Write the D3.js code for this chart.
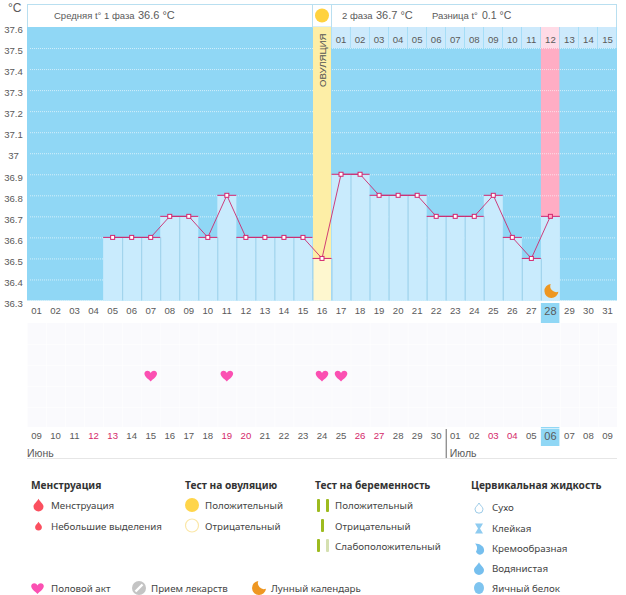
<!DOCTYPE html>
<html><head><meta charset="utf-8">
<script src="https://d3js.org/d3.v7.min.js"></script>
<style>
html,body{margin:0;padding:0;background:#fff;overflow:hidden}
text{font-family:"Liberation Sans",sans-serif;fill:#5a5a5a}
.lg text{font-family:"Noto Sans",sans-serif;fill:#444;font-size:9.75px}
.lg text.h{font-weight:700;font-size:10.2px;fill:#333}
</style></head><body>
<svg id="c" width="626" height="595"></svg>
<script>
const cycleDays = d3.range(1,32);
const dayLabels = cycleDays.map(d=>String(d).padStart(2,"0"));
const temps = [null,null,null,null,36.6,36.6,36.6,36.7,36.7,36.6,36.8,36.6,36.6,36.6,36.6,36.5,36.9,36.9,36.8,36.8,36.8,36.7,36.7,36.7,36.8,36.6,36.5,36.7];
const tempTicks = [37.6,37.5,37.4,37.3,37.2,37.1,37,36.9,36.8,36.7,36.6,36.5,36.4,36.3];
const phase2Labels = ["01","02","03","04","05","06","07","08","09","10","11","12","13","14","15"];
const calendarLabels = ["09","10","11","12","13","14","15","16","17","18","19","20","21","22","23","24","25","26","27","28","29","30","01","02","03","04","05","06","07","08","09"];
const weekendDays = [4,5,11,12,18,19,25,26];
const sexDays = [7,11,16,17];
const ovulationDay = 16, todayDay = 28, pinkDay = 28, julyStart = 23;

const svg = d3.select("#c");
const x = d3.scaleBand().domain(cycleDays).range([27,617]);
const y = d3.scaleLinear().domain([36.3,37.6]).range([300.5,27]);
const bw = x.bandwidth();
const BLUE="#90d7f5", BAR="#c9ebfd", RED="#d4246e", TXT="#5a5a5a";
const plotW = 590;

// header box
svg.append("rect").attr("x",27.5).attr("y",4.5).attr("width",plotW-1).attr("height",23).attr("fill","#fff").attr("stroke","#b9dff0");
// plot background
svg.append("rect").attr("x",x(1)).attr("y",y(37.6)).attr("width",plotW).attr("height",y(36.3)-y(37.6)).attr("fill",BLUE);
// phase-2 day strip
const stripH = y(37.5)-y(37.6);
svg.selectAll(".strip").data(phase2Labels).join("rect")
  .attr("x",(d,i)=>x(ovulationDay+1+i)).attr("y",y(37.6)).attr("width",bw-.6).attr("height",stripH)
  .attr("fill",(d,i)=>ovulationDay+1+i===pinkDay?"#ffdbe6":"#cdeafc");
// pink column
svg.append("rect").attr("x",x(pinkDay)).attr("y",y(37.5)).attr("width",bw-.5).attr("height",y(temps[pinkDay-1])-y(37.5)).attr("fill","#ffadc4");
// gridlines
svg.selectAll(".g").data(tempTicks.filter(t=>t<37.6)).join("line")
  .attr("x1",x(1)+3).attr("x2",616).attr("y1",d=>y(d)+.5).attr("y2",d=>y(d)+.5)
  .attr("stroke","#fff").attr("stroke-opacity",.6).attr("stroke-dasharray","1 1");
// ovulation column
svg.append("rect").attr("x",x(ovulationDay)).attr("y",4.5).attr("width",bw).attr("height",22.5).attr("fill","#fff").attr("stroke","#b9dff0");
svg.append("rect").attr("x",x(ovulationDay)+.5).attr("y",y(37.6)).attr("width",bw-1).attr("height",y(temps[ovulationDay-1])-y(37.6)).attr("fill","#fdeea6");
svg.append("rect").attr("x",x(ovulationDay)+.5).attr("y",y(temps[ovulationDay-1])).attr("width",bw-1).attr("height",y(36.3)-y(temps[ovulationDay-1])).attr("fill","#fef7cf");
svg.append("circle").attr("cx",x(ovulationDay)+bw/2).attr("cy",15.5).attr("r",7).attr("fill","#ffd23f");
svg.append("text").text("ОВУЛЯЦИЯ").attr("transform",`translate(${x(ovulationDay)+bw/2+3.5},87) rotate(-90)`).attr("font-size",9.6).style("fill","#555");

// bars
const data = temps.map((t,i)=>({day:i+1,t})).filter(d=>d.t!==null);
svg.selectAll(".bar").data(data.filter(d=>d.day!==ovulationDay)).join("rect")
  .attr("x",d=>x(d.day)).attr("y",d=>y(d.t)).attr("width",bw).attr("height",d=>y(36.3)-y(d.t)).attr("fill",BAR);
svg.selectAll(".sep").data(data.slice(1)).join("line")
  .attr("x1",d=>x(d.day)+.5).attr("x2",d=>x(d.day)+.5).attr("y1",d=>y(Math.min(d.t,temps[d.day-2])) ).attr("y2",y(36.3))
  .attr("stroke","#9dd0ea");
// value caps, line, markers
svg.selectAll(".cap").data(data).join("line")
  .attr("x1",d=>x(d.day)).attr("x2",d=>x(d.day)+bw).attr("y1",d=>y(d.t)).attr("y2",d=>y(d.t))
  .attr("stroke",RED).attr("stroke-width",1);
const line = d3.line().x(d=>x(d.day)+bw/2).y(d=>y(d.t));
svg.append("path").datum(data).attr("d",line).attr("fill","none").attr("stroke","#cc2a6e").attr("stroke-width",.9);
svg.selectAll(".pt").data(data).join("rect")
  .attr("x",d=>x(d.day)+bw/2-2).attr("y",d=>y(d.t)-2).attr("width",4).attr("height",4)
  .attr("fill",d=>d.day===pinkDay?"#ffadc4":"#fff").attr("stroke",RED).attr("stroke-width",1);

// today highlights
svg.append("rect").attr("x",x(todayDay)).attr("y",303).attr("width",bw-.5).attr("height",20).attr("fill",BLUE);
svg.append("rect").attr("x",x(todayDay)).attr("y",427).attr("width",bw-.5).attr("height",19).attr("fill",BLUE);

// lower panel
svg.append("rect").attr("x",x(1)).attr("y",323).attr("width",plotW).attr("height",104).attr("fill","#fafafd");
svg.selectAll(".lv").data(cycleDays).join("line").attr("x1",d=>x(d)+.5).attr("x2",d=>x(d)+.5).attr("y1",323).attr("y2",427).attr("stroke","#fff").attr("stroke-opacity",.6);
svg.selectAll(".lh").data(d3.range(5)).join("line").attr("x1",27).attr("x2",617).attr("y1",d=>344.5+d*21).attr("y2",d=>344.5+d*21).attr("stroke","#fff").attr("stroke-opacity",.6);
const heart = s=>`M0 ${s*.95}C${-s*.5} ${s*.5} ${-s} ${s*.15} ${-s} ${-s*.3}C${-s} ${-s*.8} ${-s*.25} ${-s*.95} 0 ${-s*.4}C${s*.25} ${-s*.95} ${s} ${-s*.8} ${s} ${-s*.3}C${s} ${s*.15} ${s*.5} ${s*.5} 0 ${s*.95}Z`;
svg.selectAll(".heart").data(sexDays).join("path").attr("d",heart(6.3)).attr("transform",d=>`translate(${x(d)+bw/2},375.5)`).attr("fill","#fb50b2");

// axes
const FS="9.6px";
function clean(g){g.select(".domain").remove();g.selectAll(".tick line").remove();g.selectAll("text").style("font-family",'"Liberation Sans",sans-serif').style("font-size",FS).style("fill",TXT);}
svg.append("g").attr("transform","translate(0,307)")
  .call(d3.axisBottom(x).tickSize(0).tickPadding(0).tickFormat(d=>dayLabels[d-1])).call(clean)
  .selectAll("text").attr("dy","0.71em").style("font-size",d=>d===todayDay?"11px":FS);
svg.append("g").attr("transform","translate(0,432)")
  .call(d3.axisBottom(x).tickSize(0).tickPadding(0).tickFormat(d=>calendarLabels[d-1])).call(clean)
  .selectAll("text").attr("dy","0.71em").style("fill",d=>weekendDays.includes(d)?"#d4286a":TXT).style("font-size",d=>d===todayDay?"11px":FS);
svg.append("g").attr("transform","translate(13.5,0)")
  .call(d3.axisLeft(y).tickValues(tempTicks).tickSize(0).tickPadding(0).tickFormat(d=>String(d))).call(clean)
  .selectAll("text").attr("text-anchor","middle").attr("dy","0.6em");
// phase-2 strip labels
svg.selectAll(".st").data(phase2Labels).join("text").text(d=>d)
  .attr("x",(d,i)=>x(ovulationDay+1+i)+bw/2).attr("y",43).attr("text-anchor","middle").attr("font-size",FS);

// month line
svg.append("line").attr("x1",27).attr("x2",617).attr("y1",458.5).attr("y2",458.5).attr("stroke","#e6e6e6");
svg.append("line").attr("x1",x(julyStart)+.5).attr("x2",x(julyStart)+.5).attr("y1",429).attr("y2",458).attr("stroke","#666");
svg.append("text").text("Июнь").attr("x",27).attr("y",457).attr("font-size",10.5);
svg.append("text").text("Июль").attr("x",x(julyStart)+4).attr("y",457).attr("font-size",10.5);

// header text
const hdr=(t,xp,s)=>svg.append("text").text(t).attr("x",xp).attr("y",19).attr("font-size",s);
svg.append("text").text("°C").attr("x",8).attr("y",12).attr("font-size",12);
hdr("Средняя t° 1 фаза",54,9.5);hdr("36.6 °C",138,11);
hdr("2 фаза",342,9.5);hdr("36.7 °C",376,11);
hdr("Разница t°",432,9.5);hdr("0.1 °C",482,10.5);

// moon
const moon=s=>`M${-s*.1} ${-s}A${s} ${s} 0 1 0 ${s} ${s*.1}A${s*.85} ${s*.85} 0 0 1 ${-s*.1} ${-s}Z`;
svg.append("path").attr("d",moon(7)).attr("transform",`translate(${x(todayDay)+bw/2+1},291)`).attr("fill","#ee9722");

// legend
const lg=svg.append("g").attr("class","lg");
const drop=s=>`M0 ${-s*1.25}C${s*.35} ${-s*.6} ${s} ${-s*.2} ${s} ${s*.3}A${s} ${s} 0 0 1 ${-s} ${s*.3}C${-s} ${-s*.2} ${-s*.35} ${-s*.6} 0 ${-s*1.25}Z`;
const menses=["Менструация","Небольшие выделения"];
const ovTest=["Положительный","Отрицательный"];
const pregTest=["Положительный","Отрицательный","Слабоположительный"];
const fluid=["Сухо","Клейкая","Кремообразная","Водянистая","Яичный белок"];
const extras=["Половой акт","Прием лекарств","Лунный календарь"];
const heads=[["Менструация",31],["Тест на овуляцию",185],["Тест на беременность",315],["Цервикальная жидкость",471]];
heads.forEach(h=>lg.append("text").attr("class","h").text(h[0]).attr("x",h[1]).attr("y",489));
const row=(arr,xp,ys)=>arr.forEach((t,i)=>lg.append("text").text(t).attr("x",xp).attr("y",ys[i]));
row(menses,51,[509,530]);row(ovTest,205,[509,530]);row(pregTest,335,[509,530,550]);
row(fluid,492,[511,532,552,572,592]);
extras.forEach((t,i)=>lg.append("text").text(t).attr("x",[51,151,271][i]).attr("y",592));
lg.append("path").attr("d",drop(5)).attr("transform","translate(38.5,505)").attr("fill","#fb4f5f");
lg.append("path").attr("d",drop(3.4)).attr("transform","translate(38.5,526)").attr("fill","#fb4f5f");
lg.append("circle").attr("cx",192).attr("cy",505).attr("r",7).attr("fill","#ffd54a");
lg.append("circle").attr("cx",192).attr("cy",525.5).attr("r",6.5).attr("fill","#fff").attr("stroke","#fbe7a8").attr("stroke-width",1.2);
const pb=(xp,yp,c)=>lg.append("rect").attr("x",xp).attr("y",yp).attr("width",3).attr("height",13).attr("rx",1).attr("fill",c);
pb(317,499,"#9dbb1f");pb(326,499,"#9dbb1f");pb(321,519,"#9dbb1f");pb(317,539,"#9dbb1f");pb(326,539,"#d5e0b0");
// fluid glyphs
lg.append("path").attr("d",drop(4)).attr("transform","translate(479,508)").attr("fill","#fff").attr("stroke","#9ccbe8");
lg.append("path").attr("d","M-4 -5H4L1 0L4 5H-4L-1 0Z").attr("transform","translate(479,528.5)").attr("fill","#8ecbf0");
lg.append("path").attr("d","M-4 -5C1 -5 5 -2 5 1A4 4 0 0 1 -3 3C-1 0 -2 -3 -4 -5Z").attr("transform","translate(479,548.5)").attr("fill","#76bfee");
lg.append("path").attr("d",drop(5)).attr("transform","translate(479,568.5)").attr("fill","#76bfee");
lg.append("ellipse").attr("cx",479).attr("cy",588).attr("rx",5).attr("ry",6).attr("fill","#7ec4ef");
lg.append("path").attr("d",heart(6.3)).attr("transform","translate(37.5,588)").attr("fill","#fb50b2");
lg.append("circle").attr("cx",139).attr("cy",588).attr("r",7).attr("fill","#c4c4c4");
lg.append("line").attr("x1",135.5).attr("y1",591.5).attr("x2",142.5).attr("y2",584.5).attr("stroke","#fff").attr("stroke-width",2.4);
lg.append("path").attr("d",moon(7)).attr("transform","translate(259,588)").attr("fill","#ee9722");
</script></body></html>
